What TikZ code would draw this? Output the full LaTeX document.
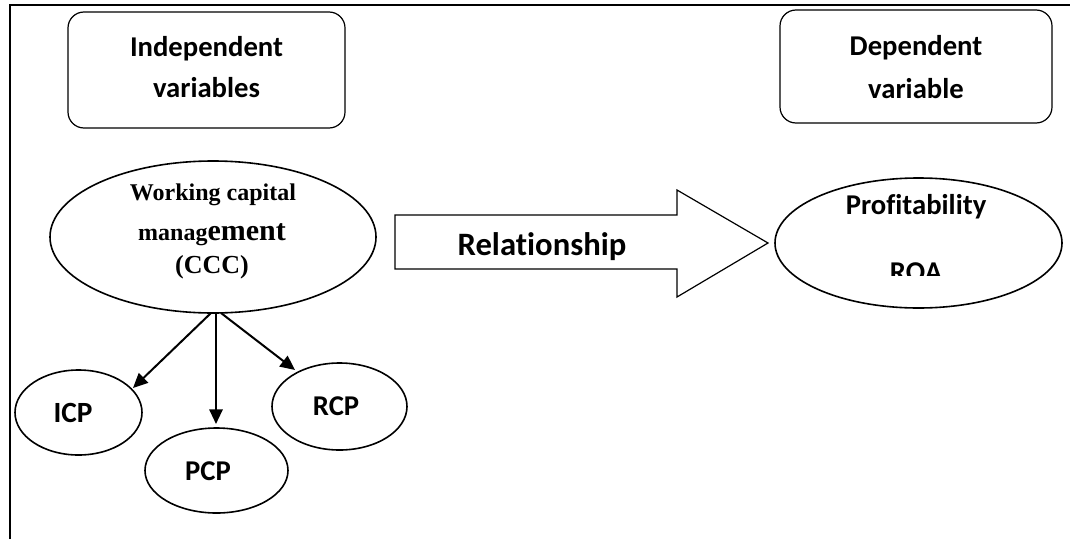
\documentclass[tikz,border=0pt]{standalone}
\usepackage{fontspec}
\setmainfont{Carlito}[Ligatures=NoCommon]
\newfontfamily\tnrfont{Liberation Serif}
\usetikzlibrary{shapes.geometric,arrows.meta}
\tikzset{
  rbox/.style={draw,line width=0.9pt,rounded corners=12pt,inner sep=0pt},
  oval/.style={draw,ellipse,line width=1.2pt,inner sep=0pt},
  lbl/.style={anchor=base,inner sep=0pt,font=\bfseries\fontsize{21.5}{25}\selectfont},
  tlbl/.style={anchor=base,inner sep=0pt,font=\tnrfont\bfseries\fontsize{18}{22}\selectfont},
  conn/.style={line width=1.5pt,-{Triangle[length=11pt,width=10pt]}},
}
\begin{document}
\begin{tikzpicture}[x=0.75pt,y=-0.75pt]
\useasboundingbox (0,0) rectangle (1070,539);
% frame
\draw[line width=1.6pt] (10,539) -- (10,5) -- (1070,5);
% top boxes
\node[rbox,minimum width=277*0.75pt,minimum height=116*0.75pt] (ibox) at (206.5,70) {};
\node[lbl] (it1) at (206.5,56) {Independent};
\node[lbl] (it2) at (206.5,97) {variables};
\node[rbox,minimum width=272*0.75pt,minimum height=113*0.75pt] (dbox) at (916,66.5) {};
\node[lbl] (dt1) at (916,55) {Dependent};
\node[lbl] (dt2) at (916,98) {variable};
% big ellipse
\node[oval,minimum width=326*0.75pt,minimum height=152*0.75pt] (wcm) at (213,237) {};
\node[tlbl] (w1) at (213,200) {Working capital};
\node[anchor=base,inner sep=0pt] (w2) at (212,240) {\tnrfont\bfseries\fontsize{18}{22}\selectfont manag\fontsize{22.5}{26}\selectfont ement};
\node[tlbl,font=\tnrfont\bfseries\fontsize{19.5}{23}\selectfont] (w3) at (212,273) {(CCC)};
% relationship arrow
\draw[line width=0.9pt] (395,215) -- (677,215) -- (677,190) -- (768,243) -- (677,297) -- (677,269) -- (395,269) -- cycle;
\node[lbl,font=\bfseries\fontsize{24.5}{29}\selectfont] (rel) at (542,255) {Relationship};
% right ellipse
\node[oval,minimum width=287*0.75pt,minimum height=130*0.75pt] (prof) at (918.5,243) {};
\node[lbl] (p1) at (916,214) {Profitability};
\begin{scope}
\clip (850,250) rectangle (990,275);
\node[lbl] (p2) at (916,281) {ROA};
\end{scope}
% small ellipses
\node[oval,minimum width=127*0.75pt,minimum height=85*0.75pt] (icp) at (78.5,412.5) {};
\node[lbl,font=\bfseries\fontsize{22}{26}\selectfont] (icpt) at (73,422) {ICP};
\node[oval,minimum width=143*0.75pt,minimum height=85*0.75pt] (pcp) at (216.5,470.5) {};
\node[lbl] (pcpt) at (208,480) {PCP};
\node[oval,minimum width=135*0.75pt,minimum height=87*0.75pt] (rcp) at (339.5,406.5) {};
\node[lbl] (rcpt) at (336,415) {RCP};
% connectors
\coordinate (s1) at (211,313);
\coordinate (s2) at (216,313);
\coordinate (s3) at (221,313);
\coordinate (e1) at (133,388);
\coordinate (e2) at (216,424);
\coordinate (e3) at (295,370);
\draw[conn] (s1) -- (e1);
\draw[conn] (s2) -- (e2);
\draw[conn] (s3) -- (e3);
\end{tikzpicture}
\end{document}
